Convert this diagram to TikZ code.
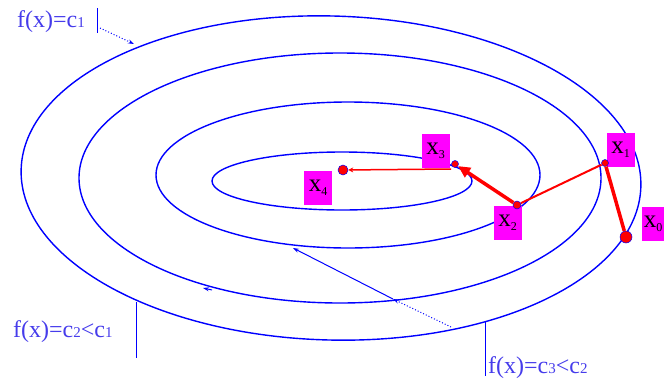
\documentclass[tikz,border=0pt]{standalone}
\usepackage{fontspec}
\setmainfont{Liberation Serif}
\usetikzlibrary{arrows.meta}
\definecolor{eblue}{RGB}{0,0,255}
\definecolor{tblue}{RGB}{70,60,235}
\definecolor{mag}{RGB}{255,0,255}
\definecolor{pred}{RGB}{255,0,0}
\newcommand{\smd}[1]{{\fontsize{15}{15}\selectfont #1}}
\newcommand{\xl}[1]{x\raisebox{-4pt}{\fontsize{12}{12}\selectfont #1}}
\begin{document}
\begin{tikzpicture}[x=1pt,y=-1pt,
 contour/.style={draw=eblue,line width=1.4pt},
 lab/.style={text=tblue,font=\fontsize{24}{24}\selectfont,inner sep=0pt,anchor=base west},
 call/.style={draw=eblue,line width=1pt},
 tip/.style={-{Stealth[length=6pt,width=4pt]}},
 xbox/.style={fill=mag,minimum width=28pt,minimum height=34pt,inner sep=0pt,font=\fontsize{25}{25}\selectfont},
 pt/.style={circle,fill=pred,draw=eblue,line width=0.5pt,inner sep=0pt},
 ]
\useasboundingbox (0,0) rectangle (664,381);
% contour lines
\path[contour,rotate around={-1.6:(331,178)}] (331,178) ellipse [x radius=310pt, y radius=162pt];
\path[contour] (340,178) ellipse [x radius=261pt, y radius=125pt];
\path[contour] (348,175) ellipse [x radius=192pt, y radius=73pt];
\path[contour] (342,181) ellipse [x radius=130pt, y radius=29pt];
% labels
\node[lab] (l1) at (17,27) {f(x)=c\smd{1}};
\node[lab] (l2) at (13,337) {f(x)=c\smd{2}<c\smd{1}};
\node[lab] (l3) at (488,373) {f(x)=c\smd{3}<c\smd{2}};
% callouts
\coordinate (b1t) at (97,8); \coordinate (b1b) at (97,33);
\coordinate (d1s) at (100,28); \coordinate (d1e) at (134,44);
\draw[call] (b1t) -- (b1b);
\draw[call,dotted,tip] (d1s) -- (d1e);
\coordinate (b2t) at (136,302); \coordinate (b2b) at (136,358);
\draw[call] (b2t) -- (b2b);
\coordinate (a2s) at (212,290); \coordinate (a2e) at (203,288);
\draw[call,tip] (a2s) -- (a2e);
\coordinate (b3t) at (485,322); \coordinate (b3b) at (485,376);
\draw[call] (b3t) -- (b3b);
\coordinate (c3a) at (451,327); \coordinate (c3b) at (393,299); \coordinate (c3c) at (293,248);
\draw[call,dotted,tip] (c3a) -- (c3b);
\draw[call,tip] (c3b) -- (c3c);
% boxes
\node[xbox] (x1) at (620.5,150) {\xl{1}};
\node[xbox] (x2) at (507.5,223) {\xl{2}};
\node[xbox] (x3) at (435.5,150.5) {\xl{3}};
\node[xbox] (x4) at (318,188) {\xl{4}};
\node[xbox,minimum width=22pt] (x0) at (653,224) {\xl{0}};
% iterates
\node[pt,minimum size=12pt] (p0) at (626,237) {};
\node[pt,minimum size=7pt] (p1) at (605,163) {};
\node[pt,minimum size=8pt] (p2) at (517,205) {};
\node[pt,minimum size=7pt] (p3) at (455,164) {};
\node[pt,minimum size=10pt] (p4) at (343,170) {};
\coordinate (p3l) at (451,169);
\draw[pred,line width=3.5pt] (p0) -- (p1);
\draw[pred,line width=2pt] (p1) -- (p2);
\draw[pred,line width=3.5pt,-{Triangle[length=12pt,width=11pt]}] (p2) -- (p3);
\draw[pred,line width=1.5pt,-{Stealth[length=5pt,width=5pt]}] (p3l) -- (p4);
\end{tikzpicture}
\end{document}
